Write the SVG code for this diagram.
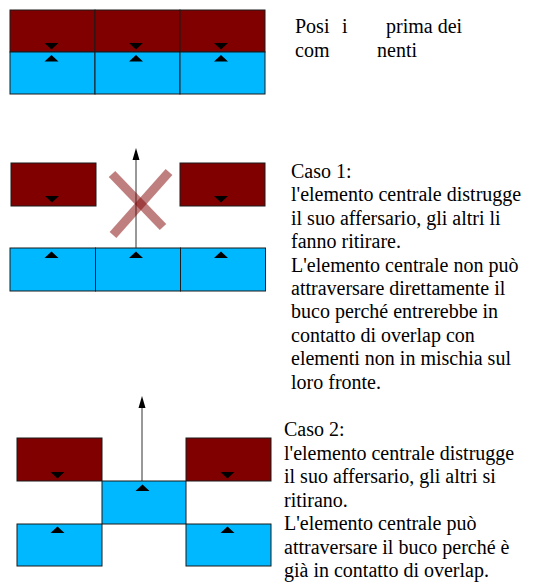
<svg xmlns="http://www.w3.org/2000/svg" width="536" height="585" viewBox="0 0 536 585">
<g id="top-row" stroke="#1a1a1a" stroke-width="1">
<g id="t-red-1"><rect fill="#800000" x="10" y="10" width="85" height="42"/><polygon fill="#000" stroke="none" points="44.5,43 58.5,43 51.5,49.5"/></g>
<g id="t-red-2"><rect fill="#800000" x="95" y="10" width="85" height="42"/><polygon fill="#000" stroke="none" points="129,43 143,43 136,49.5"/></g>
<g id="t-red-3"><rect fill="#800000" x="180" y="10" width="85" height="42"/><polygon fill="#000" stroke="none" points="214,43 228,43 221,49.5"/></g>
<g id="t-blue-1"><rect fill="#00b8ff" x="10" y="52" width="85" height="42"/><polygon fill="#000" stroke="none" points="44.5,61.5 58.5,61.5 51.5,55"/></g>
<g id="t-blue-2"><rect fill="#00b8ff" x="95" y="52" width="85" height="42"/><polygon fill="#000" stroke="none" points="129,61.5 143,61.5 136,55"/></g>
<g id="t-blue-3"><rect fill="#00b8ff" x="180" y="52" width="85" height="42"/><polygon fill="#000" stroke="none" points="214,61.5 228,61.5 221,55"/></g>
</g>

<g id="label-top" fill="#000" font-family="'Liberation Serif'" font-size="20">
<text x="295" y="33">Posi</text>
<text x="342" y="33">i</text>
<text x="386" y="33">prima dei</text>
<text x="295" y="57">com</text>
<text x="377" y="57">nenti</text>
</g>

<g id="case1" stroke="#1a1a1a" stroke-width="1">
<g id="c1-red-1"><rect fill="#800000" x="11" y="163" width="85" height="43"/><polygon fill="#000" stroke="none" points="45,196 59,196 52,202.5"/></g>
<g id="c1-red-3"><rect fill="#800000" x="180" y="163" width="85" height="43"/><polygon fill="#000" stroke="none" points="214,196 228,196 221,202.5"/></g>
<g id="c1-blue-1"><rect fill="#00b8ff" x="10" y="248" width="85.5" height="43"/><polygon fill="#000" stroke="none" points="44.5,258 58.5,258 51.5,251.5"/></g>
<g id="c1-blue-2"><rect fill="#00b8ff" x="95.5" y="248" width="85" height="43"/><polygon fill="#000" stroke="none" points="129,258 143,258 136,251.5"/></g>
<g id="c1-blue-3"><rect fill="#00b8ff" x="180.5" y="248" width="85" height="43"/><polygon fill="#000" stroke="none" points="214,258 228,258 221,251.5"/></g>
</g>

<g id="connectors">
<line x1="136" y1="248" x2="136" y2="158" stroke="#333" stroke-width="1"/>
<polygon fill="#000" points="136,148 139.5,160 132.5,160"/>
<line x1="142" y1="481" x2="142" y2="406" stroke="#333" stroke-width="1"/>
<polygon fill="#000" points="142,396 145.5,408 138.5,408"/>
</g>

<g id="cross" stroke="#800000" stroke-opacity="0.5" stroke-width="9" fill="none">
<line x1="112" y1="174" x2="163" y2="227"/>
<line x1="169" y1="172" x2="113" y2="235"/>
</g>

<g id="label-case1" fill="#000" font-family="'Liberation Serif'" font-size="20">
<text x="291" y="178">Caso 1:</text>
<text x="291" y="201.4">l'elemento centrale distrugge</text>
<text x="291" y="224.8">il suo affersario, gli altri li</text>
<text x="291" y="248.2">fanno ritirare.</text>
<text x="291" y="271.6">L'elemento centrale non può</text>
<text x="291" y="295">attraversare direttamente il</text>
<text x="291" y="318.4">buco perché entrerebbe in</text>
<text x="291" y="341.8">contatto di overlap con</text>
<text x="291" y="365.2">elementi non in mischia sul</text>
<text x="291" y="388.6">loro fronte.</text>
</g>

<g id="case2" stroke="#1a1a1a" stroke-width="1">
<g id="c2-red-1"><rect fill="#800000" x="17" y="438" width="85" height="43"/><polygon fill="#000" stroke="none" points="50.5,472 64.5,472 57.5,478.5"/></g>
<g id="c2-red-3"><rect fill="#800000" x="186" y="438" width="85" height="43"/><polygon fill="#000" stroke="none" points="220.5,472 234.5,472 227.5,478.5"/></g>
<g id="c2-blue-c"><rect fill="#00b8ff" x="102" y="481" width="84" height="43"/><polygon fill="#000" stroke="none" points="135.5,491 149.5,491 142.5,484.5"/></g>
<g id="c2-blue-1"><rect fill="#00b8ff" x="17" y="524" width="85" height="42"/><polygon fill="#000" stroke="none" points="50.5,533 64.5,533 57.5,526.5"/></g>
<g id="c2-blue-3"><rect fill="#00b8ff" x="186" y="524" width="85" height="42"/><polygon fill="#000" stroke="none" points="220.5,533 234.5,533 227.5,526.5"/></g>
</g>

<g id="label-case2" fill="#000" font-family="'Liberation Serif'" font-size="20">
<text x="284" y="436">Caso 2:</text>
<text x="284" y="459.5">l'elemento centrale distrugge</text>
<text x="284" y="483">il suo affersario, gli altri si</text>
<text x="284" y="506.5">ritirano.</text>
<text x="284" y="530">L'elemento centrale può</text>
<text x="284" y="553.5">attraversare il buco perché è</text>
<text x="284" y="577">già in contatto di overlap.</text>
</g>
</svg>
